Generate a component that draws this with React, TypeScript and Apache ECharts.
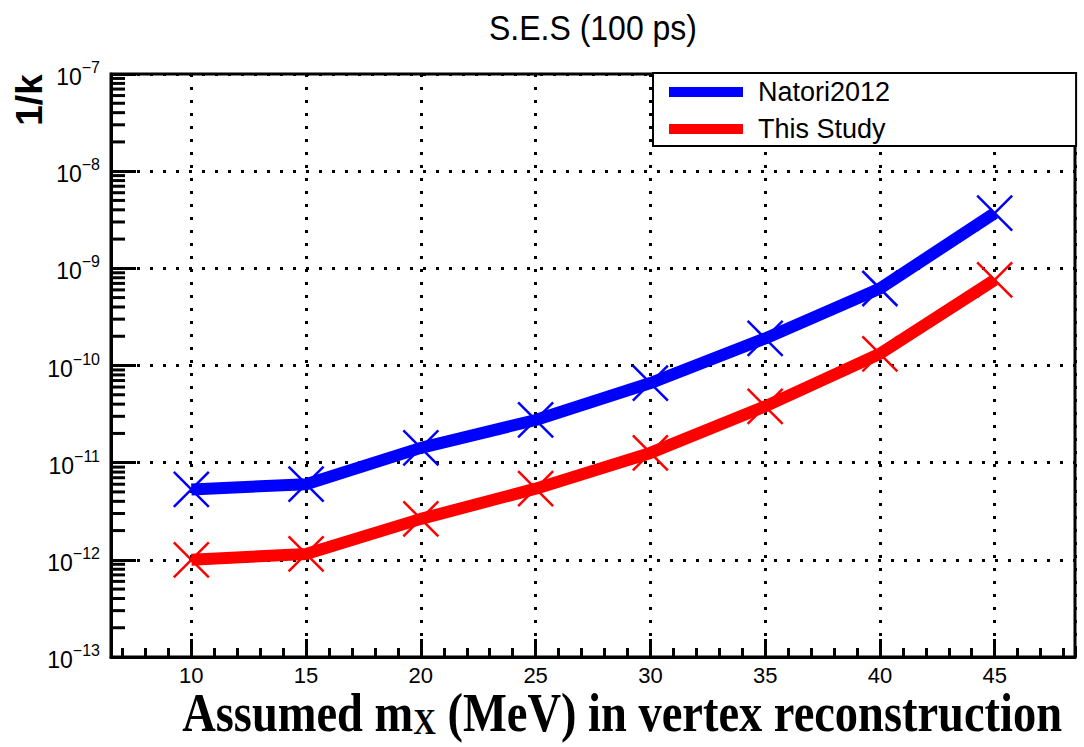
import React, { useEffect, useRef } from "react";
import * as echarts from "echarts";

const X_VALUES = [10, 15, 20, 25, 30, 35, 40, 45];
const NATORI_2012 = [5.3e-12, 6.0e-12, 1.42e-11, 2.75e-11, 6.6e-11, 1.9e-10, 6.2e-10, 3.7e-9];
const THIS_STUDY = [1.0e-12, 1.15e-12, 2.64e-12, 5.4e-12, 1.26e-11, 3.8e-11, 1.32e-10, 7.6e-10];
const SERIES_NAMES = ["Natori2012", "This Study"];

const X_MIN = 6.5;
const X_MAX = 48.5;
const Y_MIN = 1e-13;
const Y_MAX = 1e-7;
const DECADES = [-13, -12, -11, -10, -9, -8];
const MINOR_MULTIPLIERS = [2, 3, 4, 5, 6, 7, 8, 9];

const SANS = '"Liberation Sans", Arial, Helvetica, sans-serif';
const SERIF = '"Liberation Serif", "Times New Roman", serif';
const CROSS = "path://M0,0L10,10M10,0L0,10";

export default function App() {
  const ref = useRef<HTMLDivElement>(null);

  useEffect(() => {
    if (!ref.current) return;
    const chart = echarts.init(ref.current, null, { renderer: "svg" });

    const minorY: number[][] = [];
    DECADES.forEach((e) => {
      MINOR_MULTIPLIERS.forEach((k) => {
        minorY.push([X_MIN, k * Math.pow(10, e)]);
      });
    });

    const gridDots = { color: "#000", width: 3, type: [3, 10] as any };

    const option: any = {
      animation: false,
      backgroundColor: "#fff",
      grid: {
        left: 111,
        right: 9,
        top: 74,
        bottom: 90,
        show: true,
        borderColor: "#000",
        borderWidth: 3,
        containLabel: false,
        outerBoundsMode: "none",
      },
      legend: {
        data: SERIES_NAMES,
        orient: "vertical",
        left: 653,
        top: 73,
        icon: "rect",
        itemWidth: 74,
        itemHeight: 10,
        itemGap: 7,
        selectedMode: false,
        backgroundColor: "#fff",
        borderColor: "#000",
        borderWidth: 2,
        padding: [4, 186, 2, 16],
        itemStyle: { borderWidth: 0 },
        textStyle: {
          fontFamily: SANS,
          fontSize: 27,
          color: "#000",
          lineHeight: 30,
          padding: [0, 0, 0, 10],
        },
        z: 10,
      },
      xAxis: [
        {
          type: "value",
          min: X_MIN,
          max: X_MAX,
          minInterval: 5,
          maxInterval: 5,
          axisLine: { show: true, onZero: false, lineStyle: { color: "#000", width: 3 } },
          axisTick: { show: true, inside: true, length: 18, lineStyle: { color: "#000", width: 3 } },
          axisLabel: {
            showMinLabel: false,
            showMaxLabel: false,
            margin: 7,
            fontFamily: SANS,
            fontSize: 22,
            color: "#000",
          },
          splitLine: { show: true, lineStyle: gridDots },
        },
        {
          type: "value",
          min: X_MIN,
          max: X_MAX,
          minInterval: 1,
          maxInterval: 1,
          position: "bottom",
          axisLine: { show: false, onZero: false },
          axisTick: { show: true, inside: true, length: 9, lineStyle: { color: "#000", width: 3 } },
          axisLabel: { show: false },
          splitLine: { show: false },
        },
      ],
      yAxis: {
        type: "log",
        logBase: 10,
        min: Y_MIN,
        max: Y_MAX,
        splitNumber: 6,
        axisLine: { show: true, onZero: false, lineStyle: { color: "#000", width: 3 } },
        axisTick: { show: true, inside: true, length: 25, lineStyle: { color: "#000", width: 3 } },
        axisLabel: {
          margin: 11,
          formatter: (v: number) => {
            const e = Math.round(Math.log10(v));
            return `{b|10}{s|\u2212${-e}}`;
          },
          rich: {
            b: { fontFamily: SANS, fontSize: 23, color: "#000", padding: [6, 0, 0, 0] },
            s: { fontFamily: SANS, fontSize: 16, color: "#000", verticalAlign: "top" },
          },
        },
        splitLine: { show: true, lineStyle: gridDots },
      },
      graphic: [
        {
          type: "text",
          x: 593,
          y: 28,
          scaleY: 1.08,
          style: {
            text: "S.E.S (100 ps)",
            fontFamily: SANS,
            fontSize: 32,
            fill: "#000",
            align: "center",
            textAlign: "center",
            verticalAlign: "middle",
            textVerticalAlign: "middle",
          },
        },
        {
          type: "text",
          x: 29,
          y: 100,
          rotation: Math.PI / 2,
          style: {
            text: "1/k",
            fontFamily: SANS,
            fontWeight: "bold",
            fontSize: 37,
            fill: "#000",
            align: "center",
            textAlign: "center",
            verticalAlign: "middle",
            textVerticalAlign: "middle",
          },
        },
        {
          type: "text",
          x: 1062,
          y: 713,
          scaleX: 1.01,
          scaleY: 1.18,
          style: {
            text: "{a|Assumed m}{s|X}{a| (MeV) in vertex reconstruction}",
            fill: "#000",
            align: "right",
            textAlign: "right",
            verticalAlign: "middle",
            textVerticalAlign: "middle",
            rich: {
              a: { fontFamily: SERIF, fontWeight: "bold", fontSize: 46, fill: "#000", verticalAlign: "bottom" },
              s: { fontFamily: SERIF, fontWeight: "bold", fontSize: 31, fill: "#000", verticalAlign: "bottom" },
            },
          },
        },
      ],
      series: [
        {
          type: "custom",
          name: "minorY",
          silent: true,
          xAxisIndex: 0,
          yAxisIndex: 0,
          z: 3,
          data: minorY,
          renderItem: (params: any, api: any) => {
            const p = api.coord([api.value(0), api.value(1)]);
            return {
              type: "line",
              shape: { x1: p[0], y1: p[1], x2: p[0] + 14, y2: p[1] },
              style: { stroke: "#000", lineWidth: 3 },
            };
          },
        },
        {
          type: "line",
          name: SERIES_NAMES[0],
          data: X_VALUES.map((x, i) => [x, NATORI_2012[i]]),
          color: "#0000ff",
          symbol: CROSS,
          symbolSize: 35,
          showAllSymbol: true,
          lineStyle: { color: "#0000ff", width: 12 },
          itemStyle: { color: "#0000ff", borderColor: "#0000ff", borderWidth: 2.5 },
          z: 5,
        },
        {
          type: "line",
          name: SERIES_NAMES[1],
          data: X_VALUES.map((x, i) => [x, THIS_STUDY[i]]),
          color: "#ff0000",
          symbol: CROSS,
          symbolSize: 35,
          showAllSymbol: true,
          lineStyle: { color: "#ff0000", width: 12 },
          itemStyle: { color: "#ff0000", borderColor: "#ff0000", borderWidth: 2.5 },
          z: 5,
        },
      ],
    };

    chart.setOption(option);
    return () => chart.dispose();
  }, []);

  return (
    <div
      ref={ref}
      style={{ position: "absolute", left: 0, top: 0, width: 1084, height: 747, background: "#fff" }}
    />
  );
}
